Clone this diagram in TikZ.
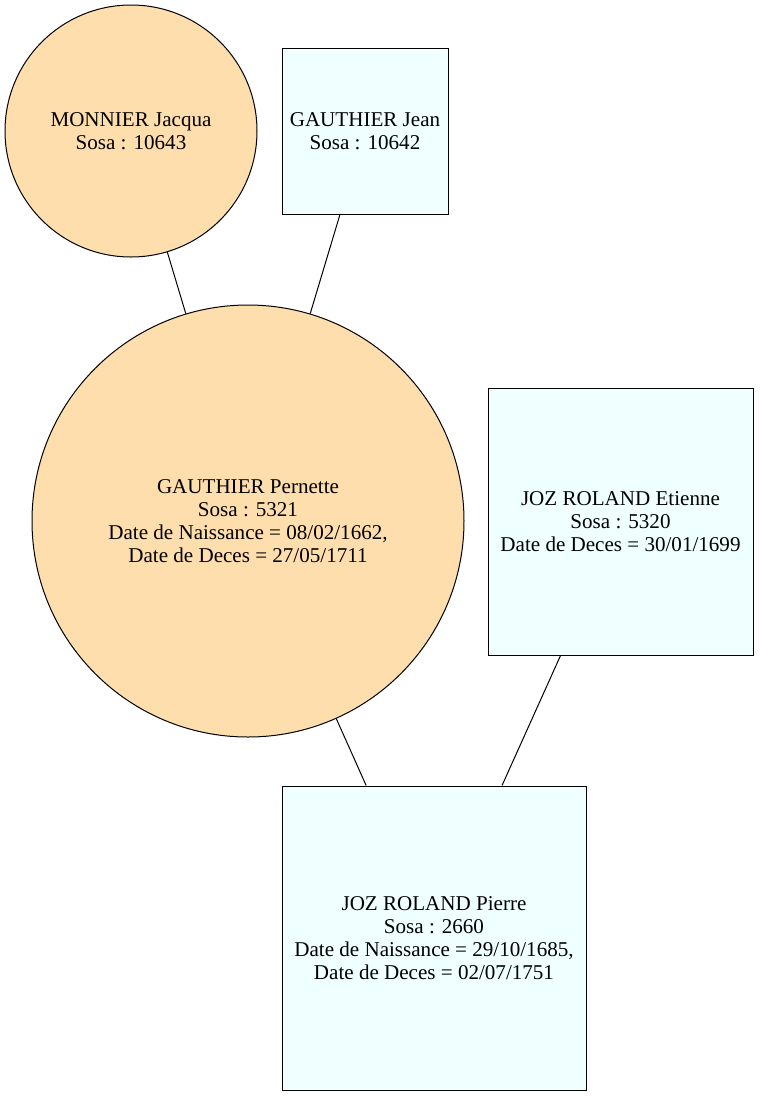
\documentclass[tikz,border=0pt]{standalone}
\usepackage{fontspec}
\setmainfont{Liberation Serif}
\definecolor{navajo}{RGB}{255,222,173}
\definecolor{azurefill}{RGB}{240,255,255}
\begin{document}
\begin{tikzpicture}[x=0.75pt,y=-0.75pt,
  txt/.style={font=\fontsize{15.8}{17.25}\selectfont,align=center,inner sep=0pt},
  femme/.style={circle,draw=black,line width=0.75pt,fill=navajo,txt},
  homme/.style={rectangle,draw=black,line width=0.75pt,fill=azurefill,txt},
  lien/.style={draw=black,line width=0.75pt}]
\useasboundingbox (0,0) rectangle (760,1096);
\node[femme,minimum size=252*0.75pt] (jacqua) at (131,131) {MONNIER Jacqua\\Sosa : 10643};
\node[homme,minimum width=166*0.75pt,minimum height=166*0.75pt] (jean) at (365,131) {GAUTHIER Jean\\Sosa : 10642};
\node[femme,minimum size=432*0.75pt] (pernette) at (248,521) {GAUTHIER Pernette\\Sosa : 5321\\Date de Naissance = 08/02/1662,\\Date de Deces = 27/05/1711};
\node[homme,minimum width=265*0.75pt,minimum height=267*0.75pt] (etienne) at (620.5,521.5) {JOZ ROLAND Etienne\\Sosa : 5320\\Date de Deces = 30/01/1699};
\node[homme,minimum width=304*0.75pt,minimum height=304*0.75pt] (pierre) at (434,938) {JOZ ROLAND Pierre\\Sosa : 2660\\Date de Naissance = 29/10/1685,\\Date de Deces = 02/07/1751};
\draw[lien] (jacqua) -- (pernette);
\draw[lien] (jean) -- (pernette);
\draw[lien] (pernette) -- (pierre);
\draw[lien] (etienne) -- (pierre);
\end{tikzpicture}
\end{document}
